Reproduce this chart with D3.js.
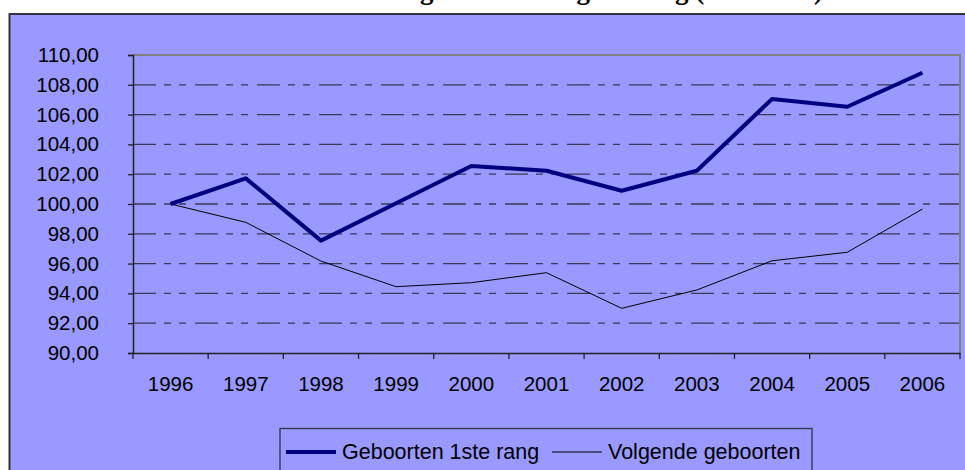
<!DOCTYPE html>
<html>
<head>
<meta charset="utf-8">
<script src="https://cdn.jsdelivr.net/npm/d3@7"></script>
<style>
  body { margin: 0; background: #fff; }
  svg { display: block; }
  text { font-family: "Liberation Sans", Arial, sans-serif; }
</style>
</head>
<body>
<svg id="canvas" width="965" height="470"></svg>
<script>
const years = ["1996", "1997", "1998", "1999", "2000", "2001", "2002", "2003", "2004", "2005", "2006"]
const firstRank = [100.0, 101.72, 97.54, 100.05, 102.55, 102.23, 100.89, 102.23, 107.05, 106.53, 108.81]
const nextBirths = [100.0, 98.77, 96.17, 94.45, 94.72, 95.39, 93.0, 94.23, 96.19, 96.76, 99.66]
const yTicks = [90, 92, 94, 96, 98, 100, 102, 104, 106, 108, 110]
const seriesNames = ["Geboorten 1ste rang", "Volgende geboorten"]
const title = "Evolutie geboorten volgens rang (1996=100)"

const nl = d3.formatLocale({ decimal: ",", thousands: ".", grouping: [3], currency: ["", ""] })
const fmt = nl.format(".2f")

const canvas = d3.select("#canvas")

// chart area (runs off the page like the original)
canvas.append("rect")
  .attr("x", 9.5).attr("y", 14)
  .attr("width", 1000).attr("height", 500)
  .attr("fill", "#9999ff")
  .attr("stroke", "#333344")
  .attr("stroke-width", 2)

// title, mostly cut off at the top
canvas.append("text")
  .attr("x", 823).attr("y", -1)
  .attr("text-anchor", "end")
  .style("font-family", "'Liberation Serif', 'Times New Roman', serif")
  .style("font-weight", "bold")
  .style("font-size", "27px")
  .text(title)

const x = d3.scaleBand().domain(years).range([133, 960])
const y = d3.scaleLinear().domain([90, 110]).range([353, 55])

// gridlines
canvas.append("g")
  .selectAll("line")
  .data(yTicks.filter((d) => d > 90 && d < 110))
  .enter()
  .append("line")
  .attr("x1", 133).attr("x2", 960)
  .attr("y1", (d) => y(d)).attr("y2", (d) => y(d))
  .attr("stroke", "#3a3a55")
  .attr("stroke-width", 1.3)
  .attr("stroke-dasharray", "23,8,7,8,7,9")

// plot border top/right
canvas.append("path")
  .attr("d", `M133,${y(110)}H960V${y(90)}`)
  .attr("fill", "none")
  .attr("stroke", "#808080")
  .attr("stroke-width", 2)

// y axis
const yAxis = canvas.append("g")
  .attr("transform", "translate(133,0)")
  .call(d3.axisLeft(y).tickValues(yTicks).tickSize(5).tickPadding(29).tickFormat(fmt))
yAxis.select(".domain").attr("stroke", "#222").attr("stroke-width", 1.5)
yAxis.selectAll(".tick line").attr("stroke", "#222").attr("stroke-width", 1.3)
yAxis.selectAll("text")
  .attr("fill", "#000")
  .style("font-size", "20.5px")
  .style("font-family", "'Liberation Sans', Arial, sans-serif")

// x axis: labels at category centres, ticks between categories
const xAxis = canvas.append("g")
  .attr("transform", `translate(0,${y(90)})`)
  .call(d3.axisBottom(x).tickSize(0).tickPadding(23))
xAxis.select(".domain").attr("stroke", "#222").attr("stroke-width", 1.5)
xAxis.selectAll("text")
  .attr("fill", "#000")
  .style("font-size", "20.5px")
  .style("font-family", "'Liberation Sans', Arial, sans-serif")
xAxis.selectAll(".boundary")
  .data(years.concat(["end"]))
  .enter()
  .append("line")
  .attr("class", "boundary")
  .attr("x1", (d) => (d === "end" ? x.range()[1] : x(d)))
  .attr("x2", (d) => (d === "end" ? x.range()[1] : x(d)))
  .attr("y1", 0).attr("y2", 6)
  .attr("stroke", "#222")
  .attr("stroke-width", 1.3)

const line = d3.line()
  .x((d, i) => x(years[i]) + x.bandwidth() / 2)
  .y((d) => y(d))

canvas.append("path")
  .datum(nextBirths)
  .attr("d", line)
  .attr("fill", "none")
  .attr("stroke", "#000")
  .attr("stroke-width", 1)

canvas.append("path")
  .datum(firstRank)
  .attr("d", line)
  .attr("fill", "none")
  .attr("stroke", "#000080")
  .attr("stroke-width", 4)
  .attr("stroke-linejoin", "round")

// legend
const legend = canvas.append("g")
legend.append("rect")
  .attr("x", 280).attr("y", 428.5)
  .attr("width", 532).attr("height", 60)
  .attr("fill", "#9999ff")
  .attr("stroke", "#333344")
  .attr("stroke-width", 1.3)

const legendItems = [
  { name: seriesNames[0], x: 286, color: "#000080", width: 4 },
  { name: seriesNames[1], x: 552, color: "#000", width: 1 },
]
legend.selectAll(".key")
  .data(legendItems)
  .enter()
  .append("line")
  .attr("class", "key")
  .attr("x1", (d) => d.x).attr("x2", (d) => d.x + 50)
  .attr("y1", 452).attr("y2", 452)
  .attr("stroke", (d) => d.color)
  .attr("stroke-width", (d) => d.width)
legend.selectAll(".label")
  .data(legendItems)
  .enter()
  .append("text")
  .attr("class", "label")
  .attr("x", (d) => d.x + 56)
  .attr("y", 459)
  .style("font-size", "21.5px")
  .text((d) => d.name)
</script>
</body>
</html>
